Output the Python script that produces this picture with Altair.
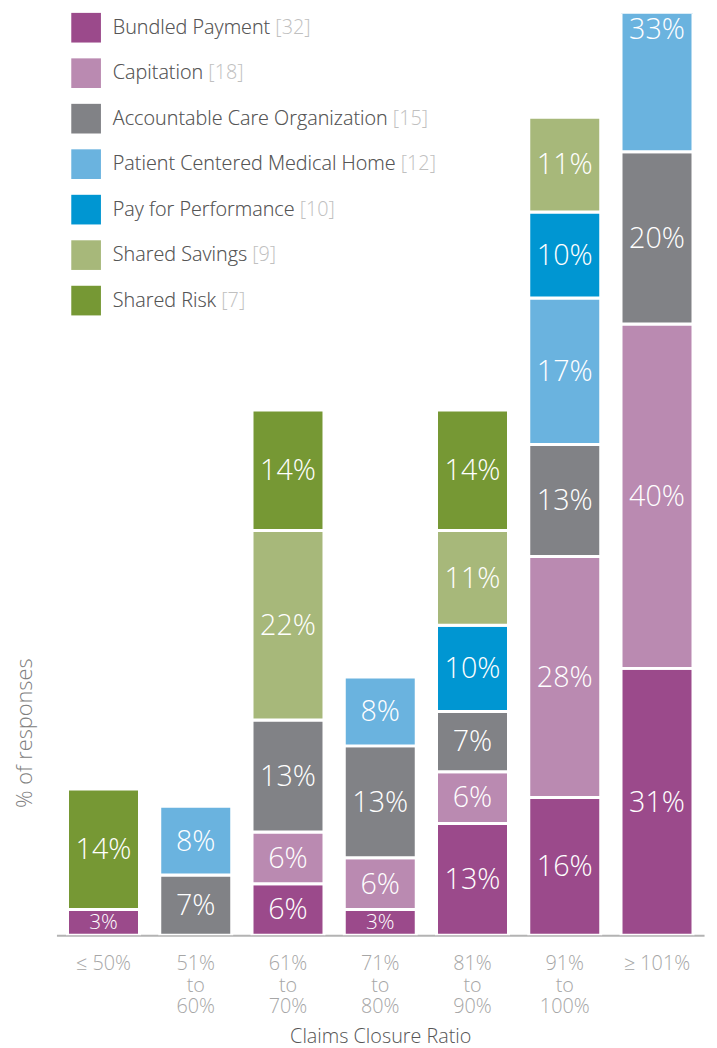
import altair as alt
import pandas as pd

categories = ["≤ 50%", "51%|to|60%", "61%|to|70%", "71%|to|80%", "81%|to|90%", "91%|to|100%", "≥ 101%"]
series = ["Bundled Payment", "Capitation", "Accountable Care Organization",
          "Patient Centered Medical Home", "Pay for Performance", "Shared Savings", "Shared Risk"]
counts = [32, 18, 15, 12, 10, 9, 7]
colors = ["#9b4a8b", "#ba8ab1", "#818286", "#6ab3df", "#0096d2", "#a7b87a", "#769834"]

bundled = [3, 0, 6, 3, 13, 16, 31]
capitation = [0, 0, 6, 6, 6, 28, 40]
aco = [0, 7, 13, 13, 7, 13, 20]
pcmh = [0, 8, 0, 8, 0, 17, 33]
p4p = [0, 0, 0, 0, 10, 10, 0]
savings = [0, 0, 22, 0, 11, 11, 0]
risk = [14, 0, 14, 0, 14, 0, 0]
values = [bundled, capitation, aco, pcmh, p4p, savings, risk]

rows = []
for si, (s, vals) in enumerate(zip(series, values)):
    for c, v in zip(categories, vals):
        if v > 0:
            rows.append(dict(ratio=c, series=s, order=si, value=v, label=f"{v}%"))
df = pd.DataFrame(rows)

fulls = [f"{s} [{c}]" for s, c in zip(series, counts)]
legend_df = pd.DataFrame(dict(series=series, full=fulls))

FONT = "Open Sans"
YMAX = 107

x_enc = alt.X(
    "ratio:N", sort=categories,
    scale=alt.Scale(paddingInner=0.22, paddingOuter=0.12),
    axis=alt.Axis(
        title="Claims Closure Ratio", labelExpr="split(datum.label, '|')",
        labelAngle=0, ticks=False, domainColor="#b3b3b3", domainWidth=2,
        labelColor="#a6a6a6", labelFontSize=20, labelFontWeight=300,
        labelLineHeight=21.5, labelPadding=19,
        labelFont=FONT, titleFont=FONT, titleFontSize=20, titleColor="#555555",
        titleFontWeight=300, titlePadding=10,
    ),
)

bars = alt.Chart(df).mark_bar(clip=True, stroke="white", strokeWidth=3).encode(
    x=x_enc,
    y=alt.Y(
        "value:Q", stack="zero",
        scale=alt.Scale(domain=[0, YMAX], nice=False),
        axis=alt.Axis(
            title="% of responses", labels=False, ticks=False, domain=False, grid=False,
            titleX=-32, titleY=727, titleAngle=-90, titleAlign="center", titleBaseline="middle",
            titleFont=FONT, titleFontSize=22, titleColor="#808080", titleFontWeight=300,
        ),
    ),
    color=alt.Color(
        "series:N", scale=alt.Scale(domain=series, range=colors),
        legend=alt.Legend(
            title=None, orient="none", legendX=15, legendY=-1, zindex=2,
            symbolType="square", symbolSize=900, symbolStrokeWidth=0, symbolOpacity=1,
            labelFont=FONT, labelFontSize=20, labelFontWeight=300, labelColor="#555555",
            labelOffset=12, rowPadding=16, padding=0, labelLimit=500,
        ),
    ),
    order=alt.Order("order:Q"),
)

texts = alt.Chart(df).transform_stack(
    stack="value", groupby=["ratio"], sort=[alt.SortField("order")], as_=["v0", "v1"]
).transform_calculate(
    mid=f"min((datum.v0 + datum.v1) / 2, {YMAX} - 1.8)"
).mark_text(color="white", font=FONT, fontWeight=300, baseline="middle", dy=1).encode(
    x=alt.X("ratio:N", sort=categories),
    y=alt.Y("mid:Q"),
    text="label:N",
    size=alt.condition(alt.datum.value < 5, alt.value(21), alt.value(29)),
)

legend_layer = alt.Chart(legend_df).mark_point(opacity=0).encode(
    shape=alt.Shape(
        "full:N", scale=alt.Scale(domain=fulls, range=["square"] * len(fulls)),
        legend=alt.Legend(
            title=None, orient="none", legendX=15, legendY=-1, zindex=1,
            symbolType="square", symbolSize=900, symbolStrokeWidth=0, symbolOpacity=0,
            labelFont=FONT, labelFontSize=20, labelFontWeight=300, labelColor="#c0c0c0",
            labelOffset=12, rowPadding=16, padding=0, labelLimit=500,
        ),
    )
)

chart = alt.layer(bars, texts, legend_layer).properties(
    width=655, height=932,
    autosize=alt.AutoSizeParams(type="none"),
    padding={"left": 49, "top": 0, "right": 5, "bottom": 108},
).configure(font=FONT).configure_view(stroke=None)

chart.save("out.html", embed_options={"renderer": "svg", "actions": False})
